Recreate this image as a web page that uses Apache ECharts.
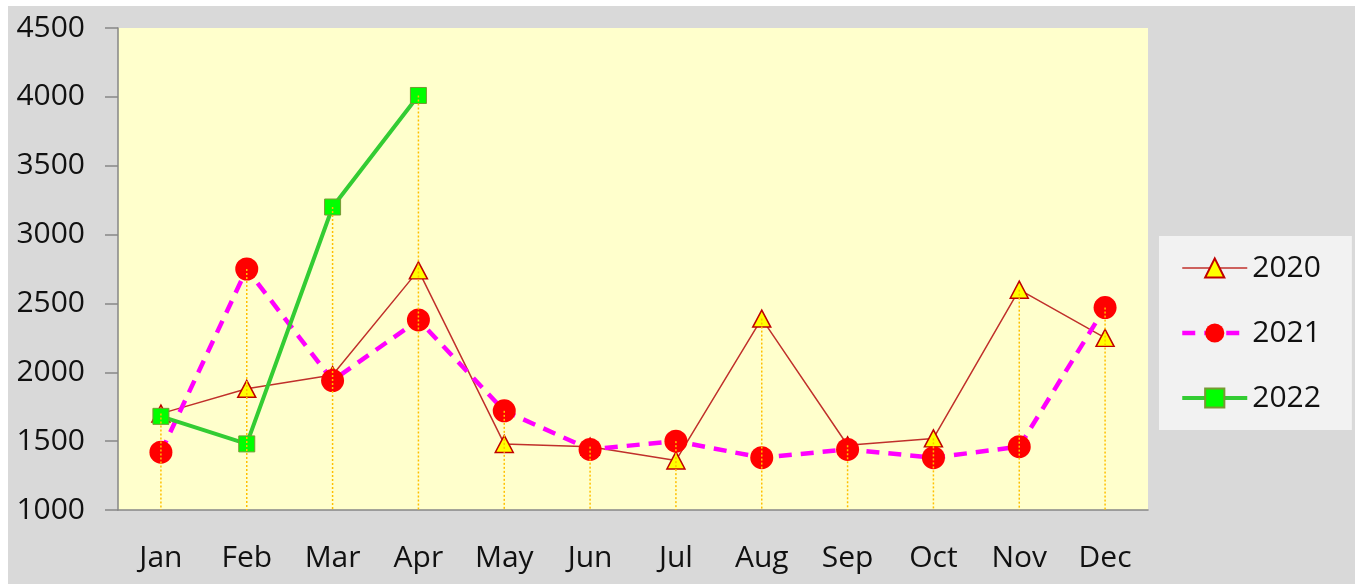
<!DOCTYPE html>
<html>
<head>
<meta charset="utf-8">
<script src="https://cdn.jsdelivr.net/npm/echarts@6/dist/echarts.min.js"></script>
<style>
html,body{margin:0;padding:0;background:#fff;}
#c{width:1361px;height:584px;}
</style>
</head>
<body>
<div id="c"></div>
<script>
const categories = ['Jan','Feb','Mar','Apr','May','Jun','Jul','Aug','Sep','Oct','Nov','Dec'];
const yTicks = [1000,1500,2000,2500,3000,3500,4000,4500];
const s2020 = [1700,1880,1980,2740,1480,1460,1360,2390,1470,1520,2600,2250];
const s2021 = [1420,2750,1940,2380,1720,1440,1500,1380,1440,1380,1460,2470];
const s2022 = [1680,1480,3200,4010,null,null,null,null,null,null,null,null];

const dropTops = categories.map((c,i)=>Math.max(...[s2020[i],s2021[i],s2022[i]].filter(v=>v!=null)));

const FONT = 'Open Sans';
const FS = 30;
const chart = echarts.init(document.getElementById('c'));
chart.setOption({
  backgroundColor:'#ffffff',
  animation:false,
  textStyle:{fontFamily:FONT},
  graphic:[{type:'rect',z:-10,silent:true,shape:{x:8,y:6,width:1347,height:578},style:{fill:'#d9d9d9'}}],
  grid:{left:118,top:28,right:213,bottom:74,show:true,backgroundColor:'#ffffcc',borderWidth:0},
  legend:{
    orient:'vertical',left:1159,top:236,
    backgroundColor:'#f2f2f2',
    padding:[17,31,17,21],
    itemWidth:65,itemHeight:24,itemGap:35,
    textStyle:{fontFamily:FONT,fontSize:FS,color:'#111',lineHeight:28},
    data:[
      {name:'2020',lineStyle:{width:1.5,color:'#c0302b'}},
      {name:'2021',lineStyle:{width:4.5,color:'#ff00ff',type:[13,9]}},
      {name:'2022',lineStyle:{width:4,color:'#33cc33'}}
    ]
  },
  xAxis:{
    type:'category',data:categories,boundaryGap:true,
    axisLine:{lineStyle:{color:'#868686',width:1.5}},
    axisTick:{show:false},
    axisLabel:{fontFamily:FONT,fontSize:FS,color:'#111',margin:33}
  },
  yAxis:{
    type:'value',min:yTicks[0],max:yTicks[yTicks.length-1],interval:500,
    axisLine:{show:true,lineStyle:{color:'#868686',width:1.5}},
    axisTick:{show:true,inside:false,length:13,lineStyle:{color:'#868686',width:1.5}},
    splitLine:{show:false},
    axisLabel:{fontFamily:FONT,fontSize:FS,color:'#111',margin:33,formatter:v=>String(v)}
  },
  series:[
    {name:'2020',type:'line',data:s2020,symbol:'triangle',symbolSize:[18,17],
      lineStyle:{color:'#c0302b',width:1.5},
      itemStyle:{color:'#ffff00',borderColor:'#c00000',borderWidth:1.5},z:2},
    {name:'2021',type:'line',data:s2021,symbol:'circle',symbolSize:23,
      lineStyle:{color:'#ff00ff',width:4.5,type:[13,9]},
      itemStyle:{color:'#ff0000',borderWidth:0},z:3},
    {name:'2022',type:'line',data:s2022,symbol:'rect',symbolSize:16,connectNulls:false,
      lineStyle:{color:'#33cc33',width:4},
      itemStyle:{color:'#00ff00',borderColor:'#779933',borderWidth:1},z:4},
    {name:'drop',type:'custom',data:dropTops.map((v,i)=>[i,v]),z:5,silent:true,
      renderItem:function(params,api){
        const top = api.coord([api.value(0),api.value(1)]);
        const bot = api.coord([api.value(0),yTicks[0]]);
        return {type:'line',shape:{x1:top[0],y1:top[1],x2:bot[0],y2:bot[1]},
          style:{stroke:'#ffc000',lineWidth:1.5,lineDash:[2,2]}};
      }}
  ]
});
</script>
</body>
</html>
